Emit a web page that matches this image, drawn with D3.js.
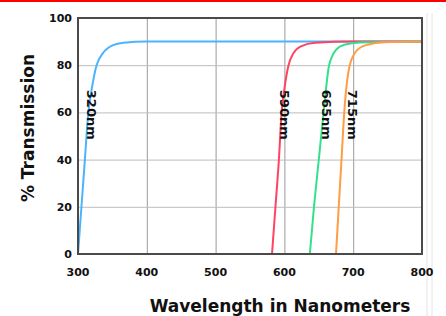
<!DOCTYPE html>
<html>
<head>
<meta charset="utf-8">
<script src="https://cdn.jsdelivr.net/npm/d3@7"></script>
<style>
  body { margin: 0; background: #fff; }
  svg text { font-family: "DejaVu Sans", sans-serif; font-weight: bold; fill: #111; }
</style>
</head>
<body>
<div class="canva"></div>
<script>
// wavelength (nm) / % transmission
const blue320 = [[300,0],[305,20],[310,40],[315,60],[320,70],[327,80],[336,85],[351,88.5],[366,89.5],[400,90],[800,90]];
const red590 = [[582,0],[587,20],[592,40],[596,60],[600,70],[606,80],[613,85],[624,88],[645,89.5],[700,90],[800,90]];
const green665 = [[637,0],[643,20],[650,40],[657,60],[665,80],[675,86.5],[687,88.7],[710,89.6],[800,90]];
const orange715 = [[675,0],[679,20],[683,40],[687,60],[695,80],[706,86.5],[721,88.7],[745,89.7],[800,90]];

const filterNames = ["320nm", "590nm", "665nm", "715nm"];
const labelX = [320, 601, 662, 700];
const labelY = 59;
const xTicks = [300, 400, 500, 600, 700, 800];
const yTicks = [0, 20, 40, 60, 80, 100];

const width = 446, height = 316;
const margin = {top: 18, right: 24, bottom: 62, left: 78};

const svg = d3.select(".canva").append("svg")
    .attr("width", width)
    .attr("height", height);

// red strip across the top
svg.append("rect").attr("x", 0).attr("y", 0).attr("width", width).attr("height", 2).attr("fill", "#ff0000");
// faint lines right of the chart
svg.append("line").attr("x1", 427).attr("x2", 427).attr("y1", 13).attr("y2", height).attr("stroke", "#e4e4e4");
svg.append("line").attr("x1", 432).attr("x2", 432).attr("y1", 13).attr("y2", height).attr("stroke", "#e4e4e4");

const x = d3.scaleLinear().domain([300, 800]).range([margin.left, width - margin.right]);
const y = d3.scaleLinear().domain([0, 100]).range([height - margin.bottom, margin.top]);

const g = svg.append("g");

// grid
g.append("g")
    .attr("transform", "translate(0," + y(0) + ")")
    .call(d3.axisBottom(x).tickValues(xTicks).tickSize(-(y(0) - y(100))).tickFormat(""))
    .call(a => a.select(".domain").remove())
    .selectAll("line").attr("stroke", "#9a9a9a");
g.append("g")
    .attr("transform", "translate(" + x(300) + ",0)")
    .call(d3.axisLeft(y).tickValues(yTicks).tickSize(-(x(800) - x(300))).tickFormat(""))
    .call(a => a.select(".domain").remove())
    .selectAll("line").attr("stroke", "#bdbdbd");

// curves
const line = d3.line()
    .x(d => x(d[0]))
    .y(d => y(d[1]))
    .curve(d3.curveMonotoneX);

const series = [
  {data: blue320, color: "#4ab4ff"},
  {data: red590, color: "#ff4461"},
  {data: green665, color: "#33e08c"},
  {data: orange715, color: "#ff9c45"}
];

g.selectAll("path.curve")
    .data(series)
    .enter().append("path")
    .attr("class", "curve")
    .attr("d", d => line(d.data))
    .attr("fill", "none")
    .attr("stroke", d => d.color)
    .attr("stroke-width", 2);

// frame
g.append("rect")
    .attr("x", x(300)).attr("y", y(100))
    .attr("width", x(800) - x(300)).attr("height", y(0) - y(100))
    .attr("fill", "none").attr("stroke", "#4a4a4a").attr("stroke-width", 2);

// labels on curves
g.selectAll("text.name")
    .data(filterNames)
    .enter().append("text")
    .attr("class", "name")
    .attr("transform", (d, i) => "translate(" + (x(labelX[i]) - 5) + "," + y(labelY) + ") rotate(90)")
    .attr("text-anchor", "middle")
    .style("font-size", "13px")
    .text(d => d);

// tick labels
svg.selectAll("text.xt")
    .data(xTicks)
    .enter().append("text")
    .attr("class", "xt")
    .attr("x", d => x(d))
    .attr("y", y(0) + 22)
    .attr("text-anchor", "middle")
    .style("font-size", "11px")
    .text(d => d);

svg.selectAll("text.yt")
    .data(yTicks)
    .enter().append("text")
    .attr("class", "yt")
    .attr("x", margin.left - 6)
    .attr("y", d => y(d) + 4)
    .attr("text-anchor", "end")
    .style("font-size", "11px")
    .text(d => d);

// axis titles
svg.append("text")
    .attr("x", 280).attr("y", 312)
    .attr("text-anchor", "middle")
    .style("font-size", "17px")
    .text("Wavelength in Nanometers");

svg.append("text")
    .attr("transform", "translate(34,128) rotate(-90)")
    .attr("text-anchor", "middle")
    .style("font-size", "17px")
    .text("% Transmission");
</script>
</body>
</html>
